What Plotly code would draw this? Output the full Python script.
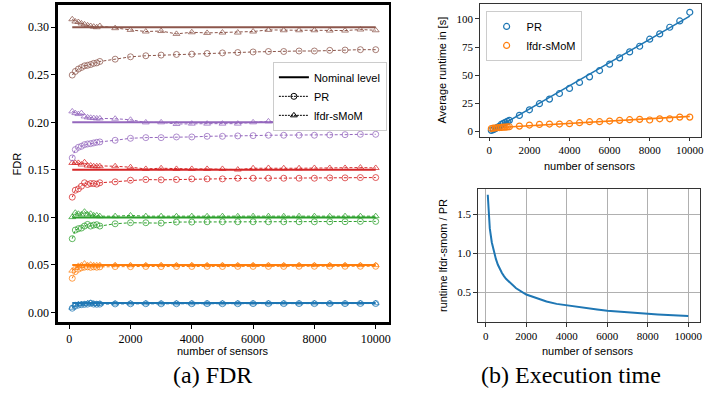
import plotly.graph_objects as go

# ---------------- data ----------------
sensors = [100, 200, 300, 400, 500, 600, 700, 800, 900, 1000,
           1500, 2000, 2500, 3000, 3500, 4000, 4500, 5000, 5500, 6000,
           6500, 7000, 7500, 8000, 8500, 9000, 9500, 10000]

nominal_levels = [0.01, 0.05, 0.10, 0.15, 0.20, 0.30]
level_colors = ["#1f77b4", "#ff7f0e", "#2ca02c", "#d62728", "#9467bd", "#8c564b"]

pr_001 = [0.0045, 0.0068, 0.0078, 0.0082, 0.0085, 0.0088, 0.0098, 0.0088, 0.0086, 0.0088,
          0.0090, 0.0091, 0.0092, 0.0091, 0.0092, 0.0092, 0.0093, 0.0092, 0.0092, 0.0093,
          0.0093, 0.0093, 0.0093, 0.0093, 0.0093, 0.0093, 0.0094, 0.0094]
lfdr_001 = [0.0050, 0.0080, 0.0085, 0.0088, 0.0090, 0.0095, 0.0100, 0.0092, 0.0090, 0.0092,
            0.0094, 0.0095, 0.0096, 0.0095, 0.0096, 0.0096, 0.0096, 0.0096, 0.0096, 0.0096,
            0.0096, 0.0096, 0.0096, 0.0096, 0.0096, 0.0096, 0.0097, 0.0097]

pr_005 = [0.0360, 0.0430, 0.0455, 0.0470, 0.0477, 0.0480, 0.0475, 0.0480, 0.0476, 0.0480,
          0.0483, 0.0482, 0.0484, 0.0483, 0.0484, 0.0484, 0.0485, 0.0484, 0.0485, 0.0485,
          0.0485, 0.0485, 0.0486, 0.0486, 0.0486, 0.0486, 0.0486, 0.0486]
lfdr_005 = [0.0440, 0.0470, 0.0490, 0.0496, 0.0514, 0.0497, 0.0503, 0.0497, 0.0496, 0.0497,
            0.0498, 0.0497, 0.0497, 0.0498, 0.0497, 0.0498, 0.0497, 0.0498, 0.0497, 0.0498,
            0.0498, 0.0497, 0.0498, 0.0498, 0.0498, 0.0498, 0.0498, 0.0498]

pr_010 = [0.0776, 0.0867, 0.0881, 0.0888, 0.0909, 0.0926, 0.0909, 0.0919, 0.0923, 0.0909,
          0.0933, 0.0944, 0.0944, 0.0940, 0.0951, 0.0951, 0.0954, 0.0954, 0.0954, 0.0954,
          0.0954, 0.0954, 0.0954, 0.0954, 0.0954, 0.0955, 0.0958, 0.0958]
lfdr_010 = [0.1003, 0.1049, 0.1038, 0.1031, 0.1060, 0.1031, 0.1038, 0.1021, 0.1021, 0.1013,
            0.1013, 0.1020, 0.1013, 0.1013, 0.1012, 0.1013, 0.1012, 0.1013, 0.1012, 0.1013,
            0.1013, 0.1012, 0.1013, 0.1013, 0.1012, 0.1013, 0.1013, 0.1013]

pr_015 = [0.1213, 0.1286, 0.1300, 0.1328, 0.1364, 0.1346, 0.1356, 0.1356, 0.1350, 0.1364,
          0.1374, 0.1391, 0.1398, 0.1395, 0.1398, 0.1405, 0.1405, 0.1405, 0.1412, 0.1412,
          0.1412, 0.1412, 0.1412, 0.1412, 0.1416, 0.1416, 0.1419, 0.1419]
lfdr_015 = [0.1573, 0.1573, 0.1573, 0.1556, 0.1580, 0.1545, 0.1545, 0.1538, 0.1538, 0.1538,
            0.1538, 0.1528, 0.1510, 0.1517, 0.1510, 0.1510, 0.1510, 0.1510, 0.1503, 0.1517,
            0.1520, 0.1517, 0.1517, 0.1520, 0.1520, 0.1520, 0.1524, 0.1520]

pr_020 = [0.1626, 0.1713, 0.1737, 0.1748, 0.1765, 0.1772, 0.1776, 0.1783, 0.1790, 0.1794,
          0.1811, 0.1832, 0.1839, 0.1839, 0.1846, 0.1846, 0.1853, 0.1853, 0.1857, 0.1860,
          0.1864, 0.1864, 0.1864, 0.1864, 0.1867, 0.1870, 0.1874, 0.1874]
lfdr_020 = [0.2115, 0.2097, 0.2087, 0.2097, 0.2062, 0.2052, 0.2048, 0.2045, 0.2041, 0.2041,
            0.2038, 0.2027, 0.1999, 0.2000, 0.1982, 0.1986, 0.1986, 0.1986, 0.1986, 0.2000,
            0.2010, 0.2003, 0.2003, 0.2003, 0.2003, 0.2006, 0.2017, 0.2006]

pr_030 = [0.2497, 0.2535, 0.2560, 0.2577, 0.2594, 0.2600, 0.2608, 0.2620, 0.2625, 0.2640,
          0.2664, 0.2689, 0.2700, 0.2707, 0.2714, 0.2717, 0.2724, 0.2730, 0.2734, 0.2740,
          0.2745, 0.2745, 0.2750, 0.2750, 0.2757, 0.2760, 0.2764, 0.2764]
lfdr_030 = [0.3084, 0.3060, 0.3055, 0.3040, 0.3030, 0.3020, 0.3013, 0.3006, 0.3000, 0.3013,
            0.2990, 0.2972, 0.2955, 0.2960, 0.2930, 0.2947, 0.2940, 0.2944, 0.2944, 0.2955,
            0.2972, 0.2968, 0.2968, 0.2968, 0.2965, 0.2965, 0.2976, 0.2968]

pr_series = [pr_001, pr_005, pr_010, pr_015, pr_020, pr_030]
lfdr_series = [lfdr_001, lfdr_005, lfdr_010, lfdr_015, lfdr_020, lfdr_030]

# runtime (seconds)
runtime_pr = [0.9, 1.5, 2.4, 3.6, 4.4, 6.2, 7.1, 8.0, 8.9, 9.8,
              14.2, 19.2, 24.6, 28.7, 33.7, 38.2, 43.5, 48.5, 54.1, 59.8,
              65.4, 70.7, 75.7, 82.0, 86.7, 92.6, 98.2, 105.9]
runtime_lfdr = [2.5, 2.8, 3.0, 3.2, 3.4, 3.5, 3.7, 3.8, 4.0, 4.1,
                4.7, 5.6, 6.2, 6.5, 6.5, 6.8, 7.7, 8.6, 8.6, 9.2,
                9.8, 10.4, 10.7, 10.1, 11.2, 11.2, 12.7, 12.7]
fit_x = [100, 10000]
fit_pr = [0.3, 102.5]
fit_lfdr = [3.0, 13.3]

ratio = [1.75, 1.32, 1.14, 1.02, 0.93, 0.855, 0.79, 0.75, 0.71, 0.675,
         0.555, 0.474, 0.43, 0.385, 0.355, 0.335, 0.316, 0.298, 0.283, 0.267,
         0.255, 0.245, 0.237, 0.228, 0.220, 0.214, 0.207, 0.200]

x_ticks = [0, 2000, 4000, 6000, 8000, 10000]
x_ticktext = ["0", "2000", "4000", "6000", "8000", "10000"]
fdr_ticks = [0.00, 0.05, 0.10, 0.15, 0.20, 0.25, 0.30]
fdr_ticktext = ["0.00", "0.05", "0.10", "0.15", "0.20", "0.25", "0.30"]
rt_ticks = [0, 25, 50, 75, 100]
rt_ticktext = ["0", "25", "50", "75", "100"]
ratio_ticks = [0.5, 1.0, 1.5]
ratio_ticktext = ["0.5", "1.0", "1.5"]

W, H = 705, 394
SERIF = "Liberation Serif"
SANS = "Liberation Sans"


def rgba(hexc, a):
    h = hexc.lstrip("#")
    return "rgba(%d,%d,%d,%.2f)" % (int(h[0:2], 16), int(h[2:4], 16), int(h[4:6], 16), a)


fig = go.Figure()

# ---- left panel: FDR ----
for lvl, col, pr, lf in zip(nominal_levels, level_colors, pr_series, lfdr_series):
    fig.add_trace(go.Scatter(x=sensors, y=[lvl] * len(sensors), mode="lines",
                             line=dict(color=col, width=2), showlegend=False,
                             xaxis="x", yaxis="y"))
    fig.add_trace(go.Scatter(x=sensors, y=pr, mode="lines+markers",
                             line=dict(color=col, width=1, dash="3px,2px"),
                             marker=dict(symbol="circle-open", size=6,
                                         color=rgba(col, 0.75), line=dict(width=1)),
                             showlegend=False, xaxis="x", yaxis="y"))
    fig.add_trace(go.Scatter(x=sensors, y=lf, mode="lines+markers",
                             line=dict(color=col, width=1, dash="3px,2px"),
                             marker=dict(symbol="triangle-up-open", size=6,
                                         color=rgba(col, 0.75), line=dict(width=1)),
                             showlegend=False, xaxis="x", yaxis="y"))

# legend proxies for the left panel
fig.add_trace(go.Scatter(x=[None], y=[None], mode="lines", name="Nominal level",
                         line=dict(color="black", width=2), legend="legend",
                         xaxis="x", yaxis="y"))
fig.add_trace(go.Scatter(x=[None], y=[None], mode="lines+markers", name="PR",
                         line=dict(color="black", width=1, dash="2px,1px"),
                         marker=dict(symbol="circle-open", size=6, color="black"),
                         legend="legend", xaxis="x", yaxis="y"))
fig.add_trace(go.Scatter(x=[None], y=[None], mode="lines+markers", name="lfdr-sMoM",
                         line=dict(color="black", width=1, dash="2px,1px"),
                         marker=dict(symbol="triangle-up-open", size=6, color="black"),
                         legend="legend", xaxis="x", yaxis="y"))

# ---- top right: runtime ----
fig.add_trace(go.Scatter(x=fit_x, y=fit_pr, mode="lines",
                         line=dict(color="#1f77b4", width=1.6), showlegend=False,
                         xaxis="x2", yaxis="y2"))
fig.add_trace(go.Scatter(x=fit_x, y=fit_lfdr, mode="lines",
                         line=dict(color="#ff7f0e", width=1.6), showlegend=False,
                         xaxis="x2", yaxis="y2"))
fig.add_trace(go.Scatter(x=sensors, y=runtime_pr, mode="markers", name="PR",
                         marker=dict(symbol="circle-open", size=6, color="#1f77b4",
                                     line=dict(width=1.2)),
                         legend="legend2", xaxis="x2", yaxis="y2"))
fig.add_trace(go.Scatter(x=sensors, y=runtime_lfdr, mode="markers", name="lfdr-sMoM",
                         marker=dict(symbol="circle-open", size=6, color="#ff7f0e",
                                     line=dict(width=1.2)),
                         legend="legend2", xaxis="x2", yaxis="y2"))

# ---- bottom right: ratio ----
fig.add_trace(go.Scatter(x=sensors, y=ratio, mode="lines",
                         line=dict(color="#1f77b4", width=2), showlegend=False,
                         xaxis="x3", yaxis="y3"))


def px_x(p):
    return p / W


def px_y(p):
    return 1 - p / H


tickfont_l = dict(family=SERIF, size=12, color="black")
tickfont_r = dict(family=SERIF, size=11, color="black")

fig.update_layout(
    width=W, height=H,
    margin=dict(l=0, r=0, t=0, b=0),
    paper_bgcolor="white", plot_bgcolor="white",
    font=dict(family=SANS, size=11, color="black"),
    xaxis=dict(domain=[px_x(58), px_x(390)], range=[-370, 10430],
               tickvals=x_ticks, ticktext=x_ticktext, tickfont=tickfont_l,
               showgrid=False, zeroline=False, showline=True, linewidth=2.5,
               linecolor="black", mirror=True, ticks="outside", ticklen=4,
               tickwidth=1, tickcolor="black", anchor="y"),
    yaxis=dict(domain=[px_y(323), px_y(5)], range=[-0.0102, 0.3234],
               tickvals=fdr_ticks, ticktext=fdr_ticktext, tickfont=tickfont_l,
               showgrid=False, zeroline=False, showline=True, linewidth=2.5,
               linecolor="black", mirror=True, ticks="outside", ticklen=4,
               tickwidth=1, tickcolor="black", anchor="x"),
    xaxis2=dict(domain=[px_x(481), px_x(703)], range=[-483, 10560],
                tickvals=x_ticks, ticktext=x_ticktext, tickfont=tickfont_r,
                showgrid=False, zeroline=False, showline=True, linewidth=1,
                linecolor="#333333", mirror=True, ticks="outside", ticklen=3.5,
                tickwidth=1, tickcolor="#333333", anchor="y2"),
    yaxis2=dict(domain=[px_y(137), px_y(4)], range=[-4.7, 113.3],
                tickvals=rt_ticks, ticktext=rt_ticktext, tickfont=tickfont_r,
                showgrid=False, zeroline=False, showline=True, linewidth=1,
                linecolor="#333333", mirror=True, ticks="outside", ticklen=3.5,
                tickwidth=1, tickcolor="#333333", anchor="x2"),
    xaxis3=dict(domain=[px_x(479), px_x(702)], range=[-400, 10580],
                tickvals=x_ticks, ticktext=x_ticktext, tickfont=tickfont_r,
                showgrid=True, gridcolor="#b0b0b0", gridwidth=1,
                zeroline=False, showline=True, linewidth=1,
                linecolor="#333333", mirror=True, ticks="outside", ticklen=3.5,
                tickwidth=1, tickcolor="#333333", anchor="y3"),
    yaxis3=dict(domain=[px_y(323), px_y(189)], range=[0.121, 1.83],
                tickvals=ratio_ticks, ticktext=ratio_ticktext, tickfont=tickfont_r,
                showgrid=True, gridcolor="#b0b0b0", gridwidth=1,
                zeroline=False, showline=True, linewidth=1,
                linecolor="#333333", mirror=True, ticks="outside", ticklen=3.5,
                tickwidth=1, tickcolor="#333333", anchor="x3"),
    legend=dict(x=px_x(388), y=px_y(62), xanchor="right", yanchor="top",
                bgcolor="white", bordercolor="#cccccc", borderwidth=1,
                font=dict(family=SANS, size=11), tracegroupgap=0,
                itemwidth=30),
    legend2=dict(x=px_x(487), y=px_y(11), xanchor="left", yanchor="top",
                 bgcolor="white", bordercolor="#cccccc", borderwidth=1,
                 font=dict(family=SANS, size=11), tracegroupgap=0,
                 itemwidth=30),
)

ann = [
    dict(text="FDR", x=px_x(17), y=px_y(164), textangle=-90),
    dict(text="number of sensors", x=px_x(224), y=px_y(352)),
    dict(text="Average runtime in [s]", x=px_x(443), y=px_y(70), textangle=-90),
    dict(text="number of sensors", x=px_x(592), y=px_y(166)),
    dict(text="runtime lfdr-smom / PR", x=px_x(445), y=px_y(256), textangle=-90),
    dict(text="number of sensors", x=px_x(590), y=px_y(352)),
]
for a in ann:
    fig.add_annotation(xref="paper", yref="paper", showarrow=False,
                       xanchor="center", yanchor="middle",
                       font=dict(family=SANS, size=11, color="black"), **a)

for txt, cx in [("(a) FDR", 213), ("(b) Execution time", 573)]:
    fig.add_annotation(xref="paper", yref="paper", showarrow=False,
                       x=px_x(cx), y=px_y(376), xanchor="center", yanchor="middle",
                       text=txt, font=dict(family=SERIF, size=24, color="black"))

fig.write_html("out.html",
               config={"displayModeBar": False, "staticPlot": True},
               post_script="document.body.style.margin='0';"
                           "document.body.style.overflow='hidden';")
